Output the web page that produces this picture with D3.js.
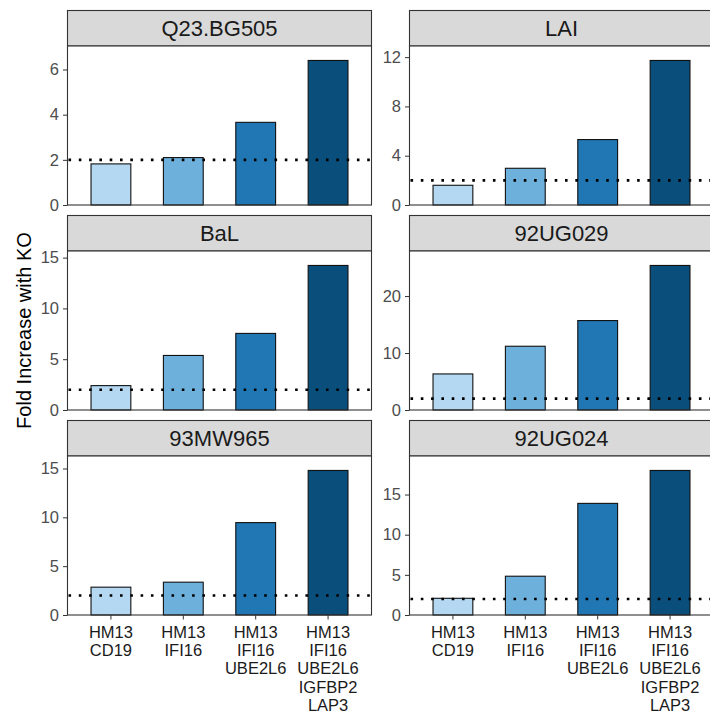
<!DOCTYPE html>
<html lang="en">
<head>
  <meta charset="UTF-8" />
  <title>Fold Increase with KO</title>
  <script src="https://d3js.org/d3.v7.min.js"></script>
  <style>
    body { margin: 0; background: #fff; }
    svg { display: block; font-family: 'Liberation Sans', Arial, Helvetica, sans-serif; }
    .tick text { fill: #4d4d4d; font-size: 16.5px; font-family: 'Liberation Sans', Arial, Helvetica, sans-serif; }
    .tick line { stroke: #333; }
    .domain { display: none; }
  </style>
</head>
<body>
  <div id="chart"></div>

  <script>
    // Strains (facets), in reading order
    const strains = ["Q23.BG505", "LAI", "BaL", "92UG029", "93MW965", "92UG024"];

    // KO combinations on the x axis (lines split on "\n")
    const combos = [
      "HM13\nCD19",
      "HM13\nIFI16",
      "HM13\nIFI16\nUBE2L6",
      "HM13\nIFI16\nUBE2L6\nIGFBP2\nLAP3"
    ];

    // fold increase per strain, one value per combo
    const q23Values     = [1.82, 2.10, 3.66, 6.40];
    const laiValues     = [1.60, 2.98, 5.31, 11.73];
    const balValues     = [2.40, 5.37, 7.54, 14.23];
    const ug029Values   = [6.33, 11.19, 15.70, 25.37];
    const mw965Values   = [2.85, 3.36, 9.46, 14.80];
    const ug024Values   = [2.08, 4.83, 13.90, 18.00];

    // y tick labels per facet
    const q23Ticks   = [0, 2, 4, 6];
    const laiTicks   = [0, 4, 8, 12];
    const balTicks   = [0, 5, 10, 15];
    const ug029Ticks = [0, 10, 20];
    const mw965Ticks = [0, 5, 10, 15];
    const ug024Ticks = [0, 5, 10, 15];

    const threshold = 2;
    const barColors = ["#b4d8f1", "#6eb0dc", "#2176b4", "#0a4e7c"];

    const allValues = [q23Values, laiValues, balValues, ug029Values, mw965Values, ug024Values];
    const allTicks  = [q23Ticks, laiTicks, balTicks, ug029Ticks, mw965Ticks, ug024Ticks];

    const width = 710, height = 715;
    const colX = [67.5, 409.5];
    const panelW = 304;
    const rowTop = 10.5, rowStep = 205;
    const stripH = 35.5, panelH = 159;

    const svg = d3.select("#chart").append("svg")
      .attr("width", width)
      .attr("height", height);

    strains.forEach((name, i) => {
      const col = i % 2, row = Math.floor(i / 2);
      const x0 = colX[col];
      const top = rowTop + row * rowStep;
      const pTop = top + stripH;
      const pBottom = pTop + panelH;
      const values = allValues[i];

      const x = d3.scaleBand()
        .domain(combos)
        .range([x0, x0 + panelW])
        .paddingInner(0.45)
        .paddingOuter(0.325);

      const y = d3.scaleLinear()
        .domain([0, d3.max(values) * 1.1])
        .range([pBottom, pTop]);

      const g = svg.append("g");

      // strip
      g.append("rect")
        .attr("x", x0).attr("y", top)
        .attr("width", panelW).attr("height", stripH)
        .attr("fill", "#d9d9d9")
        .attr("stroke", "#333").attr("stroke-width", 1.1);
      g.append("text")
        .attr("x", x0 + panelW / 2)
        .attr("y", top + stripH / 2)
        .attr("dy", "0.36em")
        .attr("text-anchor", "middle")
        .attr("font-size", 22)
        .attr("fill", "#1a1a1a")
        .text(name);

      // panel background
      g.append("rect")
        .attr("x", x0).attr("y", pTop)
        .attr("width", panelW).attr("height", panelH)
        .attr("fill", "#fff");

      // bars
      g.selectAll(".bar")
        .data(values)
        .enter().append("rect")
        .attr("class", "bar")
        .attr("x", (d, j) => x(combos[j]))
        .attr("width", x.bandwidth())
        .attr("y", d => y(d))
        .attr("height", d => y(0) - y(d))
        .attr("fill", (d, j) => barColors[j])
        .attr("stroke", "#111")
        .attr("stroke-width", 1.1);

      // dotted threshold line
      g.append("line")
        .attr("x1", x0 + 1).attr("x2", x0 + panelW)
        .attr("y1", y(threshold)).attr("y2", y(threshold))
        .attr("stroke", "#000")
        .attr("stroke-width", 2.6)
        .attr("stroke-dasharray", "2.6 7.7");

      // panel border
      g.append("rect")
        .attr("x", x0).attr("y", pTop)
        .attr("width", panelW).attr("height", panelH)
        .attr("fill", "none")
        .attr("stroke", "#333").attr("stroke-width", 1.1);

      // y axis
      g.append("g")
        .attr("transform", `translate(${x0},0)`)
        .call(d3.axisLeft(y).tickValues(allTicks[i]).tickSize(4.5).tickPadding(4).tickFormat(d3.format("d")));

      // x axis on bottom row only
      if (row === 2) {
        const xa = g.append("g")
          .attr("transform", `translate(0,${pBottom})`)
          .call(d3.axisBottom(x).tickSize(4.5).tickFormat(""));
        xa.selectAll(".tick").each(function(d) {
          const t = d3.select(this).append("text")
            .attr("text-anchor", "middle")
            .attr("y", 22.5)
            .style("fill", "#1a1a1a");
          d.split("\n").forEach((line, k) => {
            t.append("tspan").attr("x", 0).attr("dy", k === 0 ? 0 : 18.4).text(line);
          });
        });
      }
    });

    // y axis title, centred on the panel area below the first strip
    const titleY = (rowTop + stripH + rowTop + 2 * rowStep + stripH + panelH) / 2;
    svg.append("text")
      .attr("transform", `translate(31,${titleY}) rotate(-90)`)
      .attr("text-anchor", "middle")
      .attr("font-size", 20)
      .attr("fill", "#000")
      .text("Fold Increase with KO");
  </script>
</body>
</html>
